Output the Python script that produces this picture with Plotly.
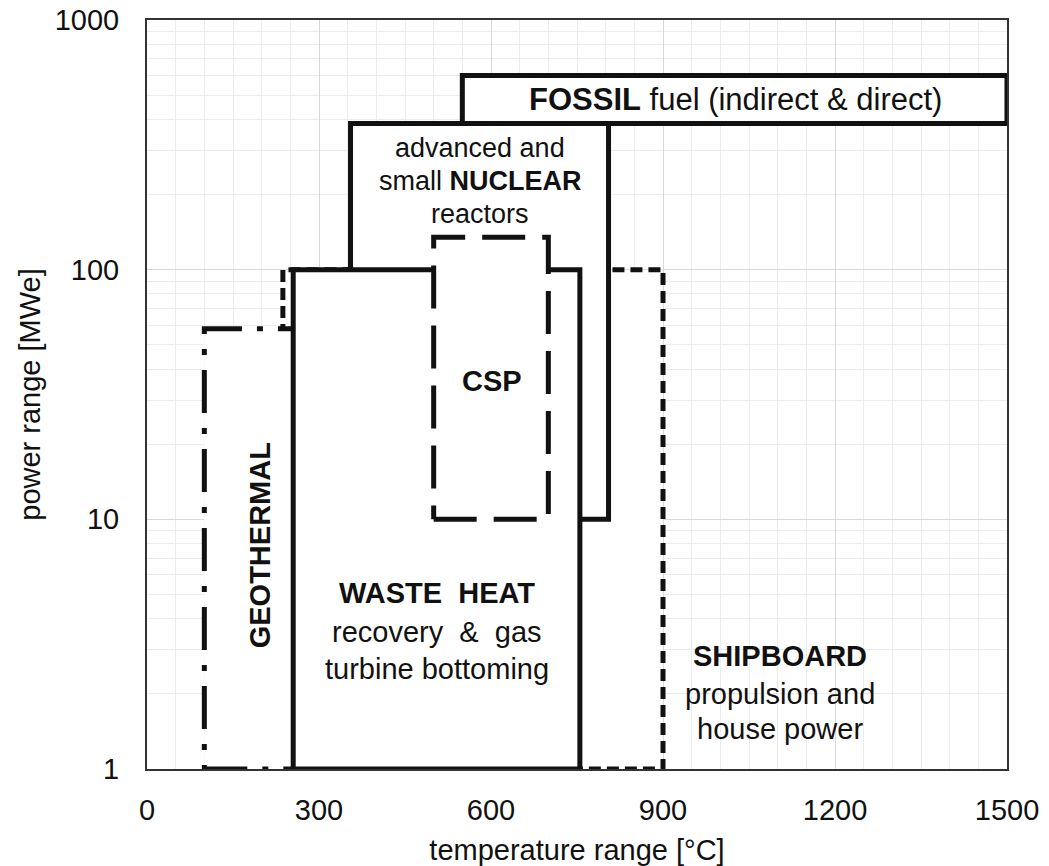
import plotly.graph_objects as go
import math

# Operating windows of each heat source: temperature [°C] and power [MWe]
sources = ["SHIPBOARD", "NUCLEAR", "FOSSIL", "GEOTHERMAL", "WASTE HEAT", "CSP"]
temp_low = [237, 355, 550, 100, 255, 500]
temp_high = [900, 805, 1500, 300, 755, 700]
power_low = [1, 10, 385, 1, 1, 10]
power_high = [100, 385, 600, 58, 100, 135]

x_ticks = [0, 300, 600, 900, 1200, 1500]
y_ticks = [1, 10, 100, 1000]
y_tick_text = ["1", "10", "100", "1000"]

# outline style for each box (drawn in list order, later boxes on top)
line_dash = {
    "SHIPBOARD": "12px,6px",
    "NUCLEAR": "solid",
    "FOSSIL": "solid",
    "GEOTHERMAL": "43px,15px,6px,15px",
    "WASTE HEAT": "solid",
    "CSP": "43px,17px",
}

FONT = "Liberation Sans, Arial, sans-serif"
INK = "#111111"

fig = go.Figure()
for name, tl, th, pl, ph in zip(sources, temp_low, temp_high, power_low, power_high):
    fig.add_trace(go.Scatter(
        x=[tl, th, th, tl, tl],
        y=[pl, pl, ph, ph, pl],
        mode="lines",
        fill="toself",
        fillcolor="white",
        line=dict(color=INK, width=5, dash=line_dash[name]),
        name=name,
        showlegend=False,
        hoverinfo="name",
    ))

def note(x, y, text, size=29):
    fig.add_annotation(
        x=x, y=math.log10(y), xref="x", yref="y", text=text,
        showarrow=False, font=dict(family=FONT, size=size, color=INK),
        xanchor="center", yanchor="middle",
    )

def px_to_power(py):
    # vertical pixel row inside the plot -> MWe on the log axis
    return 10 ** ((769 - py) / 250)

def px_to_temp(px):
    return (px - 147) / 860 * 1500

note(px_to_temp(735), px_to_power(99), "<b>FOSSIL</b> fuel (indirect &amp; direct)", 31)
note(px_to_temp(480), px_to_power(147), "advanced and", 27)
note(px_to_temp(480), px_to_power(180), "small <b>NUCLEAR</b>", 27)
note(px_to_temp(480), px_to_power(213), "reactors", 27)
note(px_to_temp(492), px_to_power(380), "<b>CSP</b>", 29)
note(px_to_temp(437), px_to_power(593), "<b>WASTE  HEAT</b>", 29)
note(px_to_temp(437), px_to_power(632), "recovery  &amp;  gas", 29)
note(px_to_temp(437), px_to_power(669), "turbine bottoming", 29)
note(px_to_temp(780), px_to_power(656), "<b>SHIPBOARD</b>", 29)
note(px_to_temp(780), px_to_power(694), "propulsion and", 29)
note(px_to_temp(780), px_to_power(729), "house power", 29)
fig.add_annotation(
    x=px_to_temp(260), y=math.log10(px_to_power(545)), xref="x", yref="y",
    text="<b>GEOTHERMAL</b>", textangle=-90, showarrow=False,
    font=dict(family=FONT, size=29, color=INK),
)

minor_y = [m * 10 ** d for d in range(3) for m in range(2, 10)]

fig.update_layout(
    width=1049, height=866,
    margin=dict(l=147, r=42, t=20, b=97),
    paper_bgcolor="white", plot_bgcolor="white",
    font=dict(family=FONT, size=29, color=INK),
    xaxis=dict(
        range=[0, 1500], tickvals=x_ticks, automargin=False,
        showgrid=True, gridcolor="#d9d9d9", gridwidth=1,
        minor=dict(dtick=50, showgrid=True, gridcolor="#ececec", gridwidth=1),
        showline=True, linecolor="#333333", linewidth=2, mirror=True,
        ticks="outside", ticklen=14, tickcolor="rgba(0,0,0,0)",
        zeroline=False,
        title=dict(text="temperature range [°C]", font=dict(size=29), standoff=18),
        tickfont=dict(size=29),
    ),
    yaxis=dict(
        type="log", range=[0, 3], tickvals=y_ticks, ticktext=y_tick_text,
        automargin=False,
        showgrid=True, gridcolor="#d9d9d9", gridwidth=1,
        minor=dict(tickvals=minor_y, showgrid=True, gridcolor="#ececec", gridwidth=1),
        showline=True, linecolor="#333333", linewidth=2, mirror=True,
        ticks="outside", ticklen=20, tickcolor="rgba(0,0,0,0)",
        zeroline=False,
        title=dict(text="power range [MWe]", font=dict(size=29), standoff=6),
        tickfont=dict(size=29),
    ),
)

fig.write_html("out.html")
